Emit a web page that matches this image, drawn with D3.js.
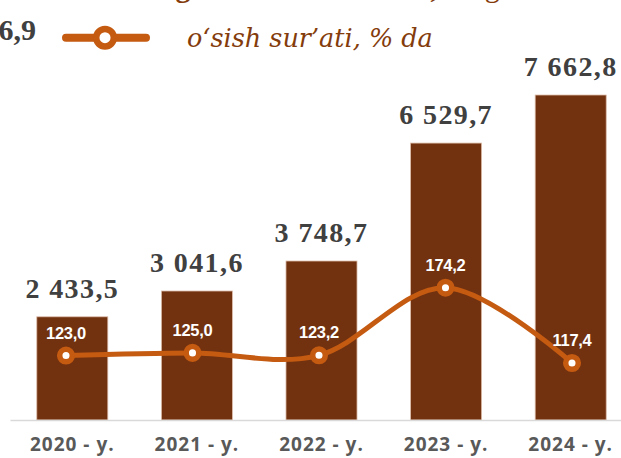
<!DOCTYPE html>
<html>
<head>
<meta charset="utf-8">
<script src="https://cdn.jsdelivr.net/npm/d3@7/dist/d3.min.js"></script>
<style>
  html, body { margin: 0; padding: 0; background: #ffffff; }
  svg { display: block; }
</style>
</head>
<body>
<script>
// ---- data ----
const categories = ["2020 - y.", "2021 - y.", "2022 - y.", "2023 - y.", "2024 - y."];
const volumes = [2433.5, 3041.6, 3748.7, 6529.7, 7662.8];
const growth = [123.0, 125.0, 123.2, 174.2, 117.4];
const legendLabel = "o‘sish sur’ati, % da";
const titleBold = "Ko‘rsatilgan bozor xizmatlar,";
const titleRegular = " ming so‘m";
const clippedLegendValue = "1 116,9";

// ---- layout ----
const W = 621, H = 458;
const baseY = 420;
const barColor = "#72320f";
const lineColor = "#c55a11";
const fmtNum = d3.formatLocale({ decimal: ",", thousands: " ", grouping: [3] }).format(",.1f");

const svg = d3.select("body").append("svg").attr("width", W).attr("height", H);

const x = d3.scaleBand().domain(categories).range([10, 633]).paddingInner(0.43).paddingOuter(0.215);
const y = d3.scaleLinear().domain([0, 9000]).range([baseY, 38.3]);
const xl = d3.scalePoint().domain(categories).range([66, 572]);
const yl = d3.scaleLinear().domain([0, 200]).range([518.6, 253.5]);

// clipped title at top
svg.append("text").attr("x", 438).attr("y", -3).attr("text-anchor", "end")
  .style("font-family", "'Liberation Serif', serif").style("font-size", "30px").style("font-weight", "bold")
  .attr("fill", "#843c0c").text(titleBold);
svg.append("text").attr("x", 438).attr("y", -3)
  .style("font-family", "'Liberation Serif', serif").style("font-size", "30px").attr("fill", "#843c0c")
  .text(titleRegular);

// clipped legend value on the left
svg.append("text").attr("x", 36).attr("y", 40).attr("text-anchor", "end")
  .style("font-family", "'Liberation Serif', serif").style("font-weight", "bold").style("font-size", "30px")
  .attr("fill", "#404040").text(clippedLegendValue);

// legend
const lg = svg.append("g");
lg.append("line").attr("x1", 66).attr("x2", 146).attr("y1", 37.7).attr("y2", 37.7)
  .attr("stroke", lineColor).attr("stroke-width", 8).attr("stroke-linecap", "round");
lg.append("circle").attr("cx", 105).attr("cy", 37.7).attr("r", 8.8)
  .attr("fill", "#fff").attr("stroke", lineColor).attr("stroke-width", 6.5);
lg.append("text").attr("x", 187).attr("y", 47)
  .style("font-family", "'DejaVu Serif', serif").style("font-style", "italic").style("font-size", "25.5px")
  .attr("fill", "#843c0c").text(legendLabel);

// bars
svg.append("g").selectAll("rect").data(volumes).join("rect")
  .attr("x", (d, i) => x(categories[i]))
  .attr("y", d => y(d))
  .attr("width", x.bandwidth())
  .attr("height", d => baseY - y(d))
  .attr("fill", barColor)
  .attr("stroke", "#dcbca8").attr("stroke-width", 0.8);

// bar value labels
svg.append("g").selectAll("text").data(volumes).join("text")
  .attr("x", (d, i) => x(categories[i]) + x.bandwidth() / 2)
  .attr("y", d => y(d) - 19)
  .attr("text-anchor", "middle")
  .style("font-family", "'Liberation Serif', serif").style("font-weight", "bold").style("font-size", "28px")
  .style("letter-spacing", "1.4px")
  .attr("fill", "#404040")
  .text(d => fmtNum(d));

// x axis
const axis = svg.append("g").attr("transform", `translate(0,${baseY})`)
  .call(d3.axisBottom(x).tickSize(0).tickPadding(18));
axis.select(".domain").attr("stroke", "#d9d9d9").attr("stroke-width", 1.5);
axis.selectAll("text")
  .style("font-family", "'Open Sans', sans-serif").style("font-weight", "bold").style("font-size", "19px")
  .style("letter-spacing", "1px")
  .attr("fill", "#595959");

// growth line
const lineGen = d3.line()
  .x((d, i) => xl(categories[i]))
  .y(d => yl(d))
  .curve(d3.curveCardinal.tension(0));
svg.append("path").datum(growth).attr("d", lineGen)
  .attr("fill", "none").attr("stroke", lineColor).attr("stroke-width", 5);

svg.append("g").selectAll("circle").data(growth).join("circle")
  .attr("cx", (d, i) => xl(categories[i]))
  .attr("cy", d => yl(d))
  .attr("r", 6.3)
  .attr("fill", "#fff").attr("stroke", lineColor).attr("stroke-width", 5.5);

// growth labels
svg.append("g").selectAll("text").data(growth).join("text")
  .attr("x", (d, i) => xl(categories[i]))
  .attr("y", d => yl(d) - 17)
  .attr("text-anchor", "middle")
  .style("font-family", "'Liberation Sans', Arial, sans-serif").style("font-weight", "bold").style("font-size", "16.5px")
  .style("letter-spacing", "-0.3px")
  .attr("fill", "#fff")
  .text(d => d3.format(".1f")(d).replace(".", ","));
</script>
</body>
</html>
